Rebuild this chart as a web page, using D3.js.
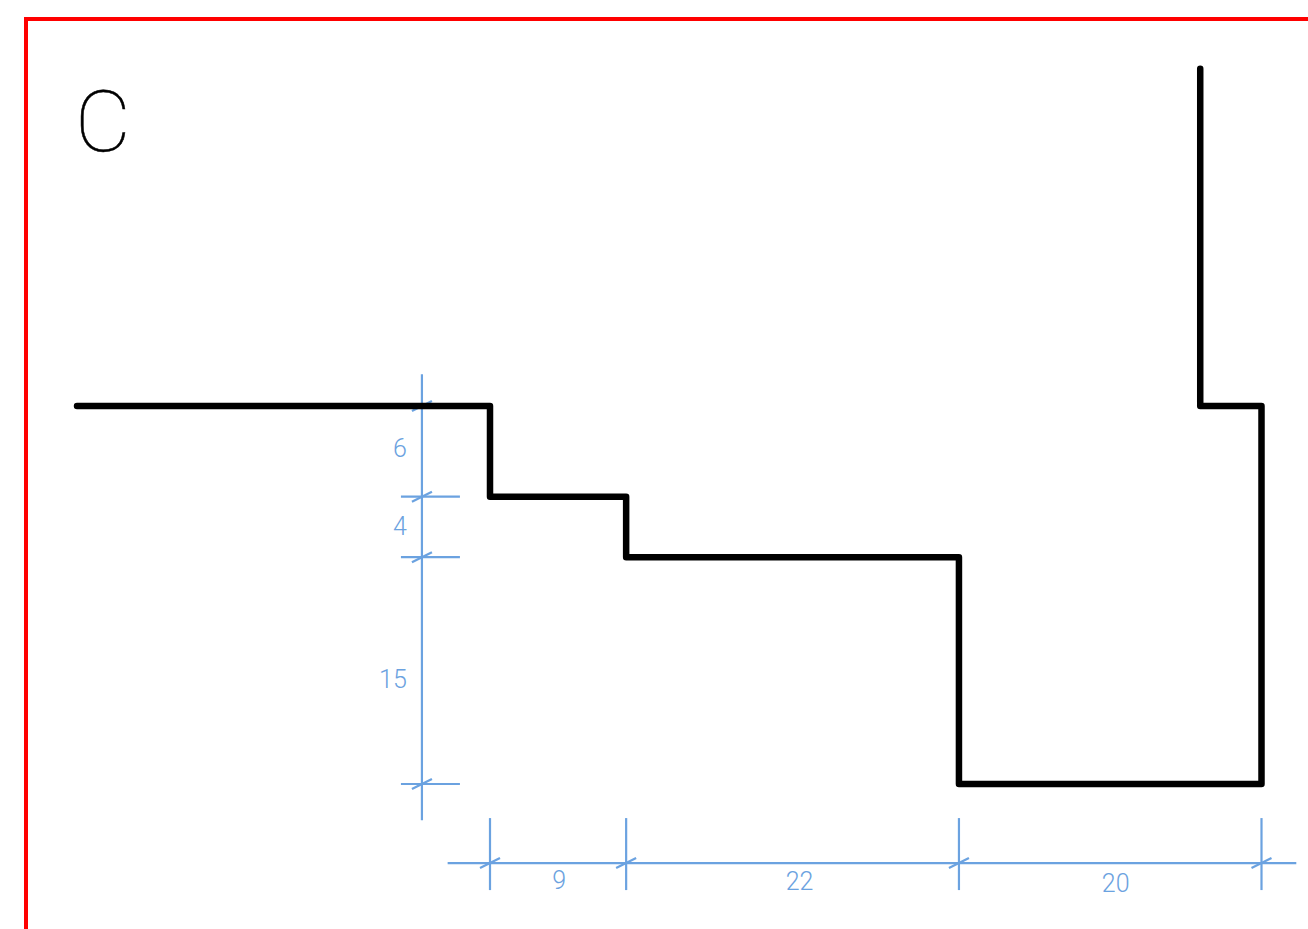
<!DOCTYPE html>
<html>
<head>
<meta charset="utf-8">
<script src="https://cdn.jsdelivr.net/npm/d3@7/dist/d3.min.js"></script>
<style>
html,body{margin:0;padding:0;background:#fff;overflow:hidden}
svg{display:block}
</style>
</head>
<body>
<svg id="c" width="1308" height="929"></svg>
<script>
// Profile vertices in drawing units (origin: first step corner)
const profileX = [-27.3, 0, 0, 9, 9, 31, 31, 51, 51, 46.95, 46.95];
const profileY = [0, 0, 6, 6, 10, 10, 25, 25, 0, 0, -22.3];
// Dimension chains
const horizontalStops = [0, 9, 31, 51];
const horizontalLabels = ["9", "22", "20"];
const verticalStops = [0, 6, 10, 25];
const verticalLabels = ["6", "4", "15"];
const title = "C";

const blue = "#6ba2e0";
const svg = d3.select("#c");
const x = d3.scaleLinear().domain([0, 51]).range([490, 1261.5]);
const y = d3.scaleLinear().domain([0, 25]).range([406, 784]);

// Frame
svg.append("path")
  .attr("d", d3.line()([[1308, 19], [26, 19], [26, 929]]))
  .attr("fill", "none").attr("stroke", "#ff0000").attr("stroke-width", 4);

// Title
svg.append("text").text(title)
  .attr("transform", "translate(75,151) scale(1,1)")
  .attr("font-family", "Roboto").attr("font-weight", 100)
  .attr("font-size", 86).attr("fill", "#000")
  .attr("stroke", "#000").attr("stroke-width", 0.5);

// Dimension geometry (drawing units)
const dimX = -4.5, dimY = 30.23;
const g = svg.append("g").attr("stroke", blue).attr("stroke-width", 2.2).attr("fill", "none");
const seg = (a, b, c, d) => g.append("line").attr("x1", a).attr("y1", b).attr("x2", c).attr("y2", d);

// Vertical chain
seg(x(dimX), y(-2.1), x(dimX), y(27.4));
verticalStops.forEach((v, i) => {
  if (i > 0) seg(x(dimX) - 21, y(v), x(dimX) + 38, y(v));
  seg(x(dimX) - 10, y(v) + 5, x(dimX) + 10, y(v) - 5);
});
// Horizontal chain
seg(x(-2.8), y(dimY), x(53.3), y(dimY));
horizontalStops.forEach(v => {
  const px = x(v);
  seg(px, y(dimY) - 45, px, y(dimY) + 27);
  seg(px - 10, y(dimY) + 5, px + 10, y(dimY) - 5);
});

// Profile
svg.append("path")
  .attr("d", d3.line().x(d => x(d[0])).y(d => y(d[1]))(profileX.map((v, i) => [v, profileY[i]])))
  .attr("fill", "none").attr("stroke", "#000").attr("stroke-width", 6.5)
  .attr("stroke-linejoin", "round").attr("stroke-linecap", "round");

// Dimension labels
const labels = svg.append("g").attr("fill", blue).attr("font-family", "Roboto")
  .attr("font-weight", 300).attr("font-size", 25).attr("text-anchor", "middle");
const hShift = [1, 7, 5.5], hDrop = [26, 27, 29];
horizontalLabels.forEach((t, i) => {
  labels.append("text").text(t)
    .attr("x", (x(horizontalStops[i]) + x(horizontalStops[i + 1])) / 2 + hShift[i])
    .attr("y", y(dimY) + hDrop[i]);
});
const vDrop = [6, 8, 17];
verticalLabels.forEach((t, i) => {
  labels.append("text").text(t)
    .attr("x", x(dimX) - (t.length > 1 ? 29 : 22))
    .attr("y", (y(verticalStops[i]) + y(verticalStops[i + 1])) / 2 + vDrop[i]);
});
</script>
</body>
</html>
